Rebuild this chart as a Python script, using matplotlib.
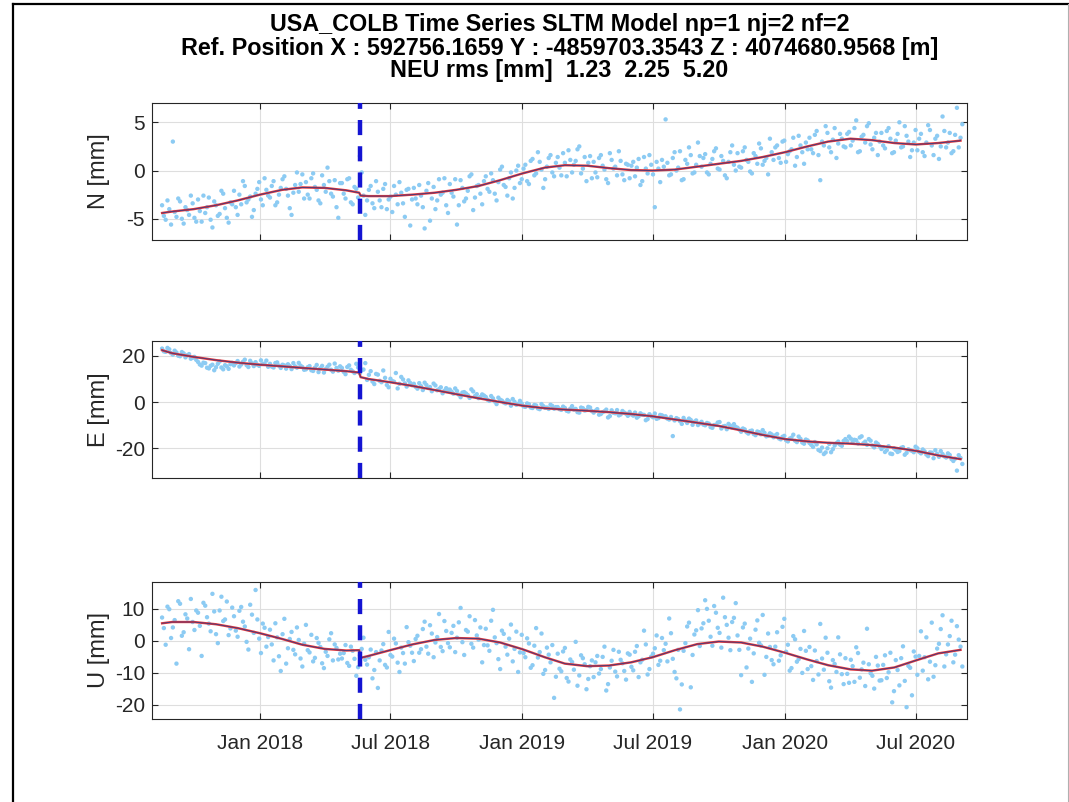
import numpy as np
import pandas as pd
import matplotlib
matplotlib.use("Agg")
import matplotlib.pyplot as plt
import matplotlib.dates as mdates
from matplotlib.lines import Line2D

plt.rcParams["font.family"] = ["Liberation Sans", "DejaVu Sans"]
plt.rcParams["axes.unicode_minus"] = False

# daily solutions thinned to two interleaved 5-day series [mm]
obs_start = "2017-08-18"
obs2_start = "2017-08-20 12:00"
obs_step = "5D"

n_obs = [
    -3.6, -5.1, -4.0, 3.0, -4.8, -3.2, -5.5, -4.1, -2.6, -4.9,
    -3.0, -5.3, -4.4, -2.8, -5.9, -3.6, -4.5, -2.4, -4.9, -3.3,
    -2.1, -4.6, -3.5, -1.6, -3.0, -4.8, -2.4, -1.2, -3.6, -2.0,
    -2.8, -1.1, -3.3, -1.8, -0.6, -2.6, -4.6, -1.5, -2.2, -0.4,
    -1.2, -2.9, -0.3, -2.0, -3.4, -1.5, 0.3, -2.4, -1.0, -4.9,
    -1.3, -2.9, -0.8, -3.5, -1.9, 1.5, -2.6, -3.1, -1.6, -3.9,
    -2.2, -3.8, -1.4, -3.0, -4.3, -2.5, -1.2, -3.4, -2.0, -5.7,
    -1.8, -3.5, -2.6, -6.0, -1.3, -2.9, -4.0, -0.9, -2.3, -3.6,
    -1.4, -2.7, -5.6, -1.0, -3.2, -2.1, -0.4, -2.8, -1.5, -3.5,
    -0.6, -2.2, -1.0, -3.1, 0.1, -1.5, -2.6, -0.2, -1.8, 0.5,
    -0.9, 0.6, -1.4, 1.2, -0.3, 0.9, -1.8, 0.4, 1.6, -0.6,
    1.4, -0.5, 0.8, 2.1, -0.2, 1.0, 2.5, 0.2, -1.1, 1.5,
    0.9, -0.7, 1.6, 0.1, -1.3, 1.1, 0.4, 2.0, -0.4, 0.7,
    -0.8, 0.9, 0.3, -1.5, 1.4, -0.3, 0.6, -3.8, 0.2, 1.1,
    5.3, -0.5, 1.3, 0.0, 2.0, -0.9, 0.7, 1.6, -0.2, 2.9,
    0.4, 1.7, -0.4, 1.2, 2.3, 0.1, 1.0, -0.8, 1.9, 0.6,
    1.8, 0.3, 2.4, 0.9, -0.3, 1.5, 2.8, 0.6, 1.3, 3.3,
    1.1, 2.6, 0.8, 3.1, 1.7, 2.2, 0.5, 3.6, 1.9, 2.9,
    3.4, 1.8, 4.1, -1.0, 2.6, 3.9, 1.9, 4.4, 2.8, 3.3,
    2.4, 4.0, 3.1, 5.2, 2.0, 3.7, 4.6, 2.7, 3.4, 1.6,
    3.9, 2.3, 4.4, 1.8, 3.1, 5.0, 2.5, 3.6, 1.4, 2.9,
    2.1, 3.8, 1.5, 4.7, 2.6, 3.3, 1.2, 5.6, 2.4, 3.9,
    2.0, 6.5, 3.4,
]
n_obs2 = [
    -4.7, -3.1, -5.6, -4.3, -2.9, -5.0, -3.8, -4.6, -3.4, -5.3,
    -4.2, -2.6, -3.8, -5.1, -3.2, -4.7, -2.1, -3.9, -5.4, -3.5,
    -3.8, -2.5, -1.1, -3.3, -2.7, -4.1, -1.9, -3.0, -0.8, -2.6,
    -1.6, -3.6, -2.5, -0.9, -1.9, -3.9, -2.3, -0.2, -1.4, -2.9,
    -2.5, -0.8, -1.7, -3.1, -0.5, -2.2, -1.1, -2.7, -3.8, -1.3,
    -2.4, -0.9, -3.3, -1.7, -2.8, -0.2, -4.6, -2.0, -3.4, -1.1,
    -3.1, -1.9, -4.0, -2.7, -1.6, -3.5, -2.3, -4.8, -1.9, -3.0,
    -2.9, -1.5, -3.8, -2.1, -5.2, -1.7, -3.1, -2.5, -0.8, -4.4,
    -2.3, -0.9, -3.6, -1.8, -2.9, -0.6, -4.1, -1.6, -2.4, -1.1,
    -1.9, -0.3, -2.4, -1.2, 0.4, -1.7, -0.8, -2.9, 0.0, -1.3,
    0.2, -1.1, 1.0, -0.5, 1.9, 0.1, -0.9, 1.3, -0.2, 0.8,
    0.3, 1.8, -0.6, 1.1, 0.6, 2.2, -0.3, 1.4, 0.8, -0.8,
    -0.2, 1.3, 0.5, -0.9, 1.8, 0.2, -0.5, 1.0, -1.0, 0.6,
    0.5, -0.6, 1.2, -1.1, 0.2, 1.6, -0.4, 0.9, -1.2, 0.4,
    0.8, -0.4, 1.9, 0.3, -1.0, 1.1, 2.4, -0.3, 0.6, 1.5,
    1.3, -0.2, 0.7, 2.0, 0.2, 1.5, -0.5, 0.9, 2.6, 0.0,
    0.4, 2.0, 1.1, -0.1, 1.8, 0.7, 2.3, 1.0, -0.4, 1.9,
    2.4, 1.3, 3.0, 0.9, 2.0, 3.4, 1.4, 2.6, 0.7, 2.2,
    2.2, 3.7, 1.6, 3.0, 4.6, 2.4, 3.2, 1.3, 3.8, 2.5,
    3.8, 2.6, 4.4, 1.9, 3.5, 2.9, 4.9, 2.2, 3.9, 3.0,
    2.6, 4.1, 3.3, 1.9, 3.8, 2.4, 4.6, 3.0, 2.1, 4.2,
    3.3, 1.9, 2.9, 4.2, 1.6, 3.6, 2.5, 4.1, 2.9, 1.8,
    3.7, 2.4, 4.8,
]

e_obs = [
    23.2, 21.8, 22.9, 20.6, 21.5, 19.9, 21.1, 20.3, 18.8, 19.6,
    17.4, 15.8, 16.9, 14.6, 16.2, 15.1, 17.6, 14.2, 15.5, 16.4,
    15.9, 17.8, 16.3, 18.4, 15.2, 16.8, 17.3, 15.7, 16.5, 18.0,
    16.6, 15.0, 17.2, 14.8, 15.9, 16.4, 14.3, 15.5, 17.0, 15.2,
    14.2, 15.6, 13.5, 16.1, 14.6, 12.8, 15.3, 14.0, 16.7, 13.6,
    14.8, 12.1, 15.9, 13.3, 16.6, 12.5, 14.1, 9.6, 13.4, 7.8,
    11.9, 8.6, 10.5, 6.4, 9.1, 12.6, 7.9, 9.8, 6.7, 8.3,
    7.9, 5.8, 6.9, 8.4, 6.1, 4.7, 7.2, 5.6, 3.8, 6.0,
    5.4, 3.6, 4.8, 2.1, 4.3, 3.0, 5.5, 2.6, 1.7, 3.3,
    2.2, 0.5, 1.6, -0.9, 1.0, -0.2, 0.9, -1.6, 0.1, -0.8,
    -0.7, -2.1, -1.0, -2.6, -1.5, -3.1, -1.8, -2.4, -1.2, -2.9,
    -2.2, -3.4, -2.6, -4.1, -1.8, -3.0, -4.6, -2.7, -3.5, -2.4,
    -4.6, -3.1, -5.2, -4.0, -6.7, -3.6, -4.9, -5.8, -3.9, -5.1,
    -4.3, -5.9, -6.8, -4.9, -5.6, -7.4, -6.1, -5.0, -7.0, -5.8,
    -6.2, -7.6, -14.8, -7.0, -8.3, -6.9, -9.1, -7.8, -8.6, -10.0,
    -8.6, -10.1, -9.4, -11.2, -9.9, -8.7, -10.6, -11.8, -10.3, -9.6,
    -11.2, -12.9, -11.9, -13.7, -12.4, -14.4, -13.1, -12.2, -14.9, -13.6,
    -15.3, -13.9, -16.2, -14.7, -17.1, -15.5, -16.8, -15.0, -17.6, -16.3,
    -17.8, -19.5, -18.4, -21.3, -22.6, -20.1, -21.8, -18.9, -17.2, -19.0,
    -16.1, -15.0, -17.4, -16.6, -15.4, -17.9, -18.6, -16.8, -19.7, -18.2,
    -20.4, -21.7, -19.2, -22.6, -20.8, -21.3, -19.6, -22.1, -20.9, -21.8,
    -20.1, -22.3, -21.4, -23.5, -22.0, -20.9, -23.8, -22.6, -24.1, -23.0,
    -25.6, -29.8, -24.3,
]
e_obs2 = [
    22.0, 23.5, 21.2, 22.3, 20.1, 21.7, 19.4, 20.8, 19.2, 18.3,
    16.3, 17.1, 14.9, 15.7, 13.8, 16.6, 15.0, 16.0, 14.4, 17.0,
    16.9, 15.4, 17.5, 16.0, 17.9, 15.6, 16.2, 18.1, 16.7, 15.3,
    15.4, 16.9, 15.8, 16.2, 14.5, 15.6, 16.9, 14.9, 15.8, 14.0,
    15.1, 13.8, 14.9, 13.0, 15.7, 14.3, 16.2, 13.2, 14.8, 15.5,
    13.1, 15.2, 14.0, 12.6, 15.0, 13.9, 16.9, 11.8, 8.9, 12.2,
    9.2, 13.7, 7.4, 10.1, 8.8, 5.9, 10.9, 8.1, 9.4, 7.3,
    6.6, 8.2, 5.2, 7.4, 6.5, 8.0, 5.1, 6.4, 4.9, 5.3,
    4.5, 5.9, 3.2, 4.1, 3.7, 1.8, 4.6, 3.4, 2.2, 2.8,
    1.0, 2.6, 0.2, 1.9, 0.6, -0.6, 0.3, 1.3, -1.2, 0.5,
    -1.9, -0.6, -2.4, -1.3, -2.8, -0.9, -2.5, -3.0, -1.7, -2.2,
    -3.1, -2.0, -3.8, -2.9, -3.3, -4.4, -2.4, -3.7, -2.1, -3.9,
    -3.8, -5.5, -4.4, -3.3, -6.1, -4.7, -3.5, -5.4, -4.6, -6.0,
    -5.4, -4.6, -6.2, -5.5, -7.9, -5.3, -6.6, -7.3, -5.6, -6.4,
    -7.2, -6.5, -8.0, -7.4, -9.5, -8.1, -7.2, -9.9, -8.0, -9.3,
    -9.8, -9.1, -10.9, -10.0, -8.9, -11.5, -10.4, -9.5, -11.1, -10.8,
    -12.0, -11.5, -13.1, -12.6, -13.9, -12.8, -14.0, -13.4, -14.6, -14.1,
    -14.5, -15.8, -15.1, -16.6, -15.9, -14.2, -17.4, -16.0, -18.1, -16.7,
    -18.6, -17.4, -20.8, -19.8, -21.9, -18.2, -20.5, -17.9, -18.5, -16.9,
    -17.0, -15.9, -16.4, -18.0, -14.9, -17.2, -16.1, -18.9, -17.6, -19.2,
    -19.6, -20.9, -22.4, -20.1, -21.7, -19.9, -22.9, -20.5, -21.2, -19.4,
    -21.7, -20.6, -22.8, -21.9, -24.4, -22.5, -21.3, -23.6, -22.3, -24.8,
    -24.6, -23.1, -26.9,
]

u_obs = [
    7.2, -1.3, 9.8, 4.1, -7.2, 11.5, 2.6, 6.9, 13.0, 3.3,
    8.7, -4.8, 10.9, 5.3, 14.6, 2.0, 9.4, 6.1, 12.2, 3.8,
    7.6, 1.2, 10.5, 4.4, -2.8, 8.1, 15.8, 0.6, 5.3, -1.9,
    3.4, -6.2, 1.0, -9.5, 6.8, -2.4, 2.7, -4.3, 0.2, -8.1,
    4.9, -3.7, -6.5, 0.8, -2.0, -8.6, -4.8, 2.3, -1.2, -5.9,
    -5.6, -1.4, -7.9, -3.2, -11.0, -4.6, 0.9, -7.5, -2.8, -9.2,
    -14.8, -3.1, -7.6, 2.7, -5.0, -0.9, -9.8, -3.9, 4.2, -1.6,
    -6.4, 1.5, -2.7, 5.9, -4.1, 2.2, -0.6, 8.3, -3.3, 3.0,
    -2.1, 4.6, 0.9, 10.2, -4.5, 2.8, -1.0, 6.4, 0.3, -6.8,
    3.7, -3.2, 9.6, -0.8, -8.9, 2.1, -4.4, 5.0, -2.6, -9.8,
    1.8, -5.2, -0.9, -7.7, 3.9, -3.6, -10.4, -2.2, -6.8, -17.9,
    -4.1, -9.6, -2.3, -12.8, -6.7, -0.4, -10.9, -5.5, -15.2, -8.0,
    -11.4, -4.8, -8.9, -1.9, -13.6, -6.3, -9.7, -3.5, -7.1, -12.2,
    -4.4, -9.3, -1.7, -6.8, 3.1, -10.6, -5.0, -2.4, -7.6, 0.8,
    -1.0, 6.9, -5.7, -11.8, -21.5, -3.2, 4.4, -14.6, 1.9, 9.5,
    3.8, 12.6, 6.2, -1.6, 8.7, 2.4, 13.4, 4.9, -3.0, 7.1,
    1.6, -10.8, 5.3, -2.5, -12.9, 3.4, -0.7, 8.0, -5.1, -2.0,
    -7.4, 2.6, -4.6, 6.8, -1.3, -8.6, 0.4, -5.8, -10.1, -3.2,
    -2.0, -12.3, -6.4, 5.2, -9.1, -3.8, -14.7, -7.3, 1.0, -10.5,
    -5.5, -13.2, -8.0, -2.1, -11.6, -6.9, 3.7, -10.2, -15.0, -7.8,
    -12.4, -4.6, -9.9, -19.3, -6.1, -14.0, -1.8, -20.8, -8.5, -3.4,
    -10.7, 2.9, -5.2, -12.1, 5.6, -7.7, -1.0, 7.9, -4.3, 1.4,
    -6.8, 4.5, -1.9,
]
u_obs2 = [
    3.9, 10.6, 0.8, 6.4, 12.3, 1.5, 8.2, -2.7, 5.8, 9.4,
    4.6, 11.8, 7.3, 2.9, 9.1, -0.8, 13.7, 6.6, 1.7, 10.3,
    3.1, 9.3, 5.9, -0.4, 11.2, 2.4, 6.6, -3.9, 4.0, 1.1,
    -1.2, 5.4, -4.9, 2.0, -7.2, 0.5, -2.9, 4.1, -5.6, -1.0,
    -3.0, 1.8, -5.4, -0.7, -7.1, -3.5, 0.4, -6.2, -2.3, -4.1,
    -3.9, -7.0, -1.9, -5.7, -8.3, -2.6, -6.0, -5.2, -11.8, -3.6,
    -6.2, -1.1, -8.4, -4.5, 0.6, -6.9, -2.2, -7.2, -0.5, -3.8,
    0.5, -3.8, 3.6, -1.9, 4.8, -5.2, 1.1, -2.0, 6.1, -0.8,
    2.4, -3.6, 5.7, -0.5, 3.3, 7.6, -2.2, 1.6, 4.1, -1.4,
    -1.5, 6.2, 1.0, -5.8, 3.1, -1.9, 0.6, -6.5, 2.8, -3.7,
    -3.9, 0.7, -8.5, -1.6, -5.3, 2.2, -9.2, -4.4, -1.4, -11.3,
    -8.8, -3.4, -11.7, -5.9, -9.1, -14.1, -4.6, -7.4, -12.0, -6.2,
    -6.8, -10.3, -5.1, -15.6, -8.4, -2.9, -11.2, -6.0, -9.5, -4.0,
    -8.2, -3.5, -11.4, -6.0, -1.2, -8.9, -4.1, 1.6, -6.3, -3.0,
    -6.5, 2.3, -9.8, -2.9, -13.7, -0.8, 5.6, -4.5, 3.2, -1.7,
    5.4, 9.9, 1.2, 10.8, 4.0, -2.2, 7.3, 0.9, 5.8, 11.7,
    -2.9, 4.1, -8.4, 0.6, -4.0, 6.3, -1.5, -10.7, 2.2, -6.1,
    -1.9, -6.3, 4.3, -3.5, -9.4, 1.4, -6.6, -2.6, 3.0, -8.9,
    -8.0, -3.1, -10.6, -5.6, 0.9, -12.7, -6.1, -9.8, -4.3, -13.6,
    -10.4, -6.0, -12.9, -3.9, -9.0, -14.2, -7.4, -11.0, -5.1, -12.5,
    -7.6, -11.7, -3.8, -15.8, -9.2, -5.5, -12.6, -7.9, -17.1, -5.0,
    -4.8, -9.4, 1.0, -6.6, -11.3, -2.5, 3.6, -8.1, -1.2, 6.2,
    -4.4, 0.3, -8.1,
]

# SLTM model curve (read at month starts and either side of the offset)
model_dates = [
    "2017-08-18", "2017-09-01", "2017-10-01", "2017-11-01", "2017-12-01",
    "2018-01-01", "2018-02-01", "2018-03-01", "2018-04-01", "2018-05-01",
    "2018-05-19", "2018-05-21", "2018-06-01", "2018-07-01", "2018-08-01",
    "2018-09-01", "2018-10-01", "2018-11-01", "2018-12-01", "2019-01-01",
    "2019-02-01", "2019-03-01", "2019-04-01", "2019-05-01", "2019-06-01",
    "2019-07-01", "2019-08-01", "2019-09-01", "2019-10-01", "2019-11-01",
    "2019-12-01", "2020-01-01", "2020-02-01", "2020-03-01", "2020-04-01",
    "2020-05-01", "2020-06-01", "2020-07-01", "2020-08-01", "2020-09-01",
]
n_model = [-4.4, -4.25, -4.0, -3.6, -3.1, -2.5, -2.0, -1.75, -1.8, -2.05,
           -2.3, -2.6, -2.65, -2.65, -2.5, -2.3, -2.0, -1.6, -1.0, -0.3,
           0.3, 0.55, 0.5, 0.25, 0.05, 0.0, 0.1, 0.4, 0.7, 1.0,
           1.4, 1.9, 2.5, 3.0, 3.3, 3.15, 2.85, 2.7, 2.85, 3.1]
e_model = [22.5, 21.2, 19.6, 18.2, 17.1, 16.2, 15.5, 14.8, 14.1, 13.4,
           12.8, 10.8, 10.0, 8.6, 7.0, 5.2, 3.4, 1.6, 0.0, -1.6,
           -2.7, -3.3, -3.8, -4.4, -5.2, -6.2, -7.6, -9.0, -10.4, -12.3,
           -14.3, -16.1, -17.1, -17.7, -18.1, -18.7, -19.8, -21.2, -23.2, -24.8]
u_model = [5.4, 5.8, 5.8, 5.1, 3.9, 2.3, 0.5, -1.3, -2.6, -3.1,
           -3.0, -5.4, -4.8, -3.0, -1.2, 0.2, 0.8, 0.6, -0.6, -2.7,
           -5.2, -7.2, -8.0, -7.8, -6.8, -5.2, -3.0, -1.1, -0.3, -0.6,
           -1.9, -3.8, -5.9, -7.7, -9.0, -9.4, -8.4, -6.2, -4.0, -2.9]

offset_date = "2018-05-20"

labels = ["N [mm]", "E [mm]", "U [mm]"]
obs = [(n_obs, n_obs2), (e_obs, e_obs2), (u_obs, u_obs2)]
models = [n_model, e_model, u_model]
ylims = [(-7.2, 7.0), (-33, 26.5), (-24.5, 18.3)]
yticks = [[-5, 0, 5], [-20, 0, 20], [-20, -10, 0, 10]]

t_obs = pd.date_range(obs_start, periods=len(n_obs), freq=obs_step)
t_obs2 = pd.date_range(obs2_start, periods=len(n_obs2), freq=obs_step)
t_mod = pd.to_datetime(model_dates)

W, H = 1069, 802
fig = plt.figure(figsize=(W / 100, H / 100), dpi=100)

# axes boxes in pixels (left, top, right, bottom)
boxes = [(152, 103, 967, 240), (152, 341, 967, 478), (152, 582, 967, 719)]

for k in range(3):
    l, t, r, b = boxes[k]
    ax = fig.add_axes([l / W, 1 - b / H, (r - l) / W, (b - t) / H])
    ax.scatter(t_obs, obs[k][0], s=10, color="#8ccbf3", edgecolors="none", zorder=2)
    ax.scatter(t_obs2, obs[k][1], s=10, color="#8ccbf3", edgecolors="none", zorder=2)
    ax.plot(t_mod, models[k], color="#e5383b", lw=1.7, zorder=3)
    ax.plot(t_mod, models[k], color="#3a3a80", lw=0.6, zorder=4)
    ax.axvline(pd.Timestamp(offset_date), color="#1414d2", lw=3.2,
               dashes=(3.4, 2.5), zorder=5)

    ax.set_xlim(pd.Timestamp("2017-08-04"), pd.Timestamp("2020-09-10"))
    ax.set_ylim(*ylims[k])
    ax.set_yticks(yticks[k])
    ax.xaxis.set_major_locator(mdates.MonthLocator(bymonth=[1, 7]))
    ax.xaxis.set_major_formatter(mdates.DateFormatter("%b %Y"))
    ax.grid(True, color="#dedede", lw=0.8)
    ax.set_axisbelow(True)
    ax.tick_params(direction="in", length=4, width=0.8, top=True, right=True,
                   labelsize=15, colors="#262626")
    ax.tick_params(axis="x", pad=11)
    ax.tick_params(axis="y", pad=5)
    for s in ax.spines.values():
        s.set_color("#262626")
        s.set_linewidth(0.8)
    if k < 2:
        ax.tick_params(labelbottom=False)
    ax.set_ylabel(labels[k], fontsize=17, color="#262626")
    ax.yaxis.set_label_coords(-0.0515, 0.5)

xc = (152 + 967) / 2 / W
title_lines = [
    "USA_COLB Time Series SLTM Model np=1 nj=2 nf=2",
    "Ref. Position X : 592756.1659 Y : -4859703.3543 Z : 4074680.9568 [m]",
    "NEU rms [mm]  1.23  2.25  5.20",
]
for line, ypx in zip(title_lines, [24, 48, 71]):
    fig.text(xc, 1 - ypx / H, line, ha="center", va="center",
             fontsize=16.8, fontweight="bold")

# screenshot frame
fig.add_artist(Line2D([13 / W, 13 / W], [0, 1 - 4 / H], color="black", lw=1.6))
fig.add_artist(Line2D([13 / W, 1], [1 - 4 / H, 1 - 4 / H], color="black", lw=1.6))
fig.add_artist(Line2D([1068 / W, 1068 / W], [0, 1 - 4 / H], color="#b0b0b0", lw=0.8))

fig.savefig("out.png", dpi=100)
